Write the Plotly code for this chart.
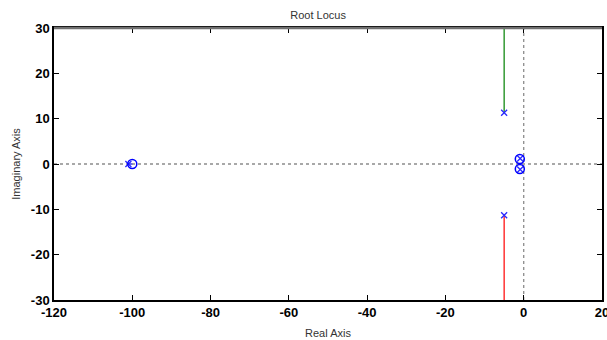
import plotly.graph_objects as go

# Open-loop poles and zeros
pole_re = [-101.0, -5.0, -5.0, -0.9, -0.9]
pole_im = [0.0, 11.3, -11.3, 1.2, -1.2]
zero_re = [-100.0, -1.0, -1.0]
zero_im = [0.0, 1.1, -1.1]

# Root locus branches (real parts, imaginary parts)
branch_blue_re = [-101.0, -100.0]
branch_blue_im = [0.0, 0.0]
branch_green_re = [-5.0, -5.0]
branch_green_im = [11.3, 40.0]
branch_red_re = [-5.0, -5.0]
branch_red_im = [-11.3, -40.0]
branch_cyan_re = [-0.9, -1.0]
branch_cyan_im = [1.2, 1.1]
branch_magenta_re = [-0.9, -1.0]
branch_magenta_im = [-1.2, -1.1]

x_ticks = [-120, -100, -80, -60, -40, -20, 0, 20]
y_ticks = [-30, -20, -10, 0, 10, 20, 30]

fig = go.Figure()

# dashed reference axes through the origin
fig.add_trace(go.Scatter(x=[-120, 20], y=[0, 0], mode="lines",
                         line=dict(color="rgb(140,140,140)", width=1.3, dash="3px,3px"),
                         hoverinfo="skip"))
fig.add_trace(go.Scatter(x=[0, 0], y=[-30, 30], mode="lines",
                         line=dict(color="rgb(140,140,140)", width=1.3, dash="3px,3px"),
                         hoverinfo="skip"))

for xs, ys, col in [
    (branch_blue_re, branch_blue_im, "rgb(0,0,255)"),
    (branch_green_re, branch_green_im, "rgb(0,128,0)"),
    (branch_red_re, branch_red_im, "rgb(255,0,0)"),
    (branch_cyan_re, branch_cyan_im, "rgb(0,191,191)"),
    (branch_magenta_re, branch_magenta_im, "rgb(191,0,191)"),
]:
    fig.add_trace(go.Scatter(x=xs, y=ys, mode="lines",
                             line=dict(color=col, width=1.2)))

fig.add_trace(go.Scatter(x=pole_re, y=pole_im, mode="markers",
                         marker=dict(symbol="x-thin-open", size=6, color="rgb(40,40,255)",
                                     line=dict(color="rgb(40,40,255)", width=1.3))))
fig.add_trace(go.Scatter(x=zero_re, y=zero_im, mode="markers",
                         marker=dict(symbol="circle-open", size=9, color="rgb(0,0,255)",
                                     line=dict(color="rgb(0,0,255)", width=1.5))))

tick_font = dict(family="Liberation Sans, Arial", size=13, color="#000000")
label_font = dict(family="Liberation Sans, Arial", size=11, color="#333333")

fig.update_layout(
    template="none",
    width=607, height=340,
    margin=dict(l=54, r=5, t=28, b=40, autoexpand=False),
    paper_bgcolor="white", plot_bgcolor="white",
    showlegend=False,
    title=dict(text="Root Locus", x=0.524, xanchor="center", y=0.955, yanchor="middle",
               font=label_font),
    xaxis=dict(range=[-120, 20], tickvals=x_ticks,
               ticktext=[f"<b>{v}</b>" for v in x_ticks],
               ticks="inside", ticklen=5, tickcolor="#000000", automargin=False,
               ticklabeloverflow="allow",
               showline=True, linecolor="#000000", linewidth=1.5, mirror="ticks",
               showgrid=False, zeroline=False, tickfont=tick_font,
               title=dict(text="Real Axis", standoff=10, font=label_font)),
    yaxis=dict(range=[-30, 30], tickvals=y_ticks,
               ticktext=[f"<b>{v}</b>" for v in y_ticks],
               ticks="inside", ticklen=5, tickcolor="#000000", automargin=False,
               ticklabeloverflow="allow",
               showline=True, linecolor="#000000", linewidth=1.5, mirror="ticks",
               showgrid=False, zeroline=False, tickfont=tick_font,
               title=dict(text="Imaginary Axis", standoff=8, font=label_font)),
)

# grey upper frame edge
fig.add_shape(type="line", xref="paper", yref="paper", x0=0, x1=1, y0=1, y1=1,
              line=dict(color="#707070", width=2.5))

fig.write_html("out.html")
